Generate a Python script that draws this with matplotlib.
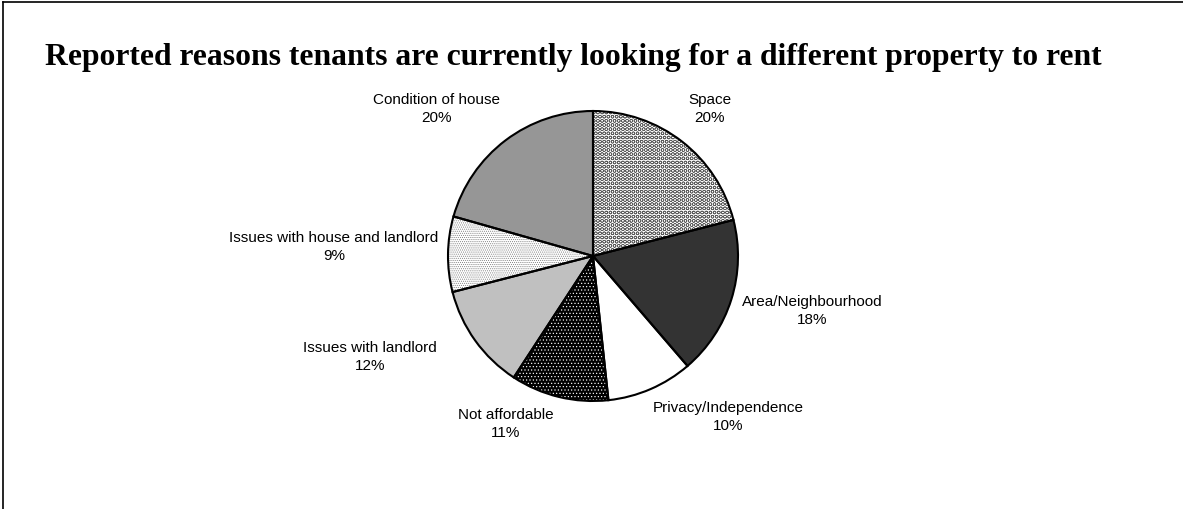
import matplotlib
matplotlib.use("Agg")
import matplotlib.pyplot as plt
from matplotlib.lines import Line2D

title = "Reported reasons tenants are currently looking for a different property to rent"
categories = ["Space", "Area/Neighbourhood", "Privacy/Independence", "Not affordable",
              "Issues with landlord", "Issues with house and landlord", "Condition of house"]
values = [21.0, 17.7, 9.6, 10.9, 11.8, 8.4, 20.6]
pct_labels = ["20%", "18%", "10%", "11%", "12%", "9%", "20%"]

faces = ["white", "#333333", "white", "black", "#c0c0c0", "white", "#969696"]
hatches = ["OOOO", None, None, ".....", None, "........", None]
hatch_cols = ["#5a5a5a", "none", "none", "white", "none", "#777777", "none"]

# label centre positions (pixels from top-left)
label_px = [(710, 109), (812, 311), (728, 417), (506, 424), (370, 357), (334, 247), (437, 109)]

W, H = 1183, 509
fig = plt.figure(figsize=(W / 100, H / 100), dpi=100)
ax = fig.add_axes([0, 0, 1, 1])

plt.rcParams["hatch.linewidth"] = 0.45
cx, cy, r = 593, H - 256, 145

# fill + hatch layer
wedges, _ = ax.pie(values, startangle=90, counterclock=False, center=(cx, cy), radius=r,
                   colors=faces, frame=True, wedgeprops=dict(linewidth=0))
for w, h, hc in zip(wedges, hatches, hatch_cols):
    if h:
        w.set_hatch(h)
        w.set_edgecolor(hc)
# outline layer
ax.pie(values, startangle=90, counterclock=False, center=(cx, cy), radius=r,
       colors=["none"] * len(values), frame=True,
       wedgeprops=dict(linewidth=1.5, edgecolor="black", fill=False))
ax.set_xlim(0, W)
ax.set_ylim(0, H)
ax.set_aspect("equal")
ax.axis("off")

for (px, py), cat, pl in zip(label_px, categories, pct_labels):
    ax.text(px, H - py, f"{cat}\n{pl}", ha="center", va="center", fontsize=11,
            family="Liberation Sans", linespacing=1.4)

fig.text(45 / W, 1 - 58 / H, title, ha="left", va="center", fontsize=22.8,
         fontweight="bold", family="Liberation Serif")

# partial frame: top and left edges
fig.add_artist(Line2D([3 / W, 3 / W], [0, 1 - 2 / H], transform=fig.transFigure, color="black", lw=1.2))
fig.add_artist(Line2D([3 / W, 1], [1 - 2 / H, 1 - 2 / H], transform=fig.transFigure, color="black", lw=1.2))

fig.savefig("out.png", dpi=100)
